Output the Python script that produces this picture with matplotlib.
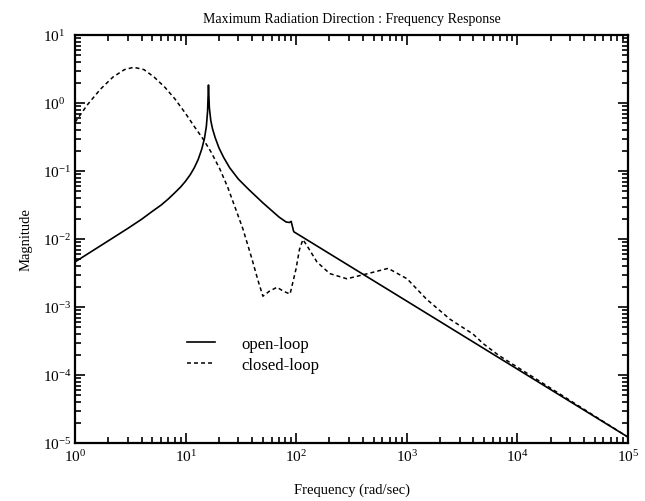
import matplotlib
matplotlib.use('Agg')
import matplotlib.pyplot as plt
from matplotlib.ticker import LogLocator, NullFormatter

plt.rcParams['font.family'] = ['Liberation Serif', 'DejaVu Serif']
plt.rcParams['mathtext.fontset'] = 'custom'
plt.rcParams['mathtext.rm'] = 'Liberation Serif'
plt.rcParams['mathtext.it'] = 'Liberation Serif:italic'
plt.rcParams['mathtext.bf'] = 'Liberation Serif:bold'

# open-loop (solid)
open_freq = [1.0, 2.0, 3.0, 4.0, 5.0, 6.0, 7.0, 8.0, 9.0, 10.0, 11.0, 12.0,
             13.0, 14.0, 14.8, 15.4, 15.8, 16.1, 16.4, 16.9, 17.5, 18.5, 20.0,
             22.0, 25.0, 30.0, 37.0, 50.0, 70.0, 81.0, 87.0, 90.0, 95.0,
             1000.0, 100000.0]
open_mag = [0.0046, 0.0094, 0.0143, 0.0195, 0.0255, 0.0315, 0.039, 0.048,
            0.058, 0.071, 0.088, 0.112, 0.148, 0.21, 0.30, 0.45, 0.75, 1.84,
            0.85, 0.55, 0.42, 0.31, 0.22, 0.16, 0.112, 0.076, 0.054, 0.034,
            0.021, 0.0178, 0.0175, 0.0182, 0.0128, 0.00122, 0.0000122]

# closed-loop (dashed)
closed_freq = [1.0, 1.3, 1.7, 2.2, 2.8, 3.4, 4.2, 5.2, 6.5, 8.0, 10.0, 12.0,
               14.3, 17.0, 20.4, 24.0, 29.0, 33.0, 39.8, 45.0, 50.0, 57.0,
               67.0, 77.0, 88.0, 99.5, 107.0, 115.0, 125.0, 154.0, 201.0,
               287.0, 445.0, 678.0, 1006.0, 1510.0, 2460.0, 3970.0, 4900.0,
               6760.0, 100000.0]
closed_mag = [0.52, 0.95, 1.6, 2.4, 3.1, 3.35, 3.1, 2.4, 1.7, 1.15, 0.70,
              0.45, 0.30, 0.19, 0.107, 0.058, 0.025, 0.014, 0.0051, 0.0025,
              0.00144, 0.0017, 0.00195, 0.0017, 0.00155, 0.0036, 0.0070,
              0.0098, 0.0080, 0.0046, 0.0031, 0.0026, 0.0031, 0.0037, 0.0026,
              0.0013, 0.00066, 0.00040, 0.00029, 0.000195, 0.0000122]

fig = plt.figure(figsize=(6.45, 5.02), dpi=100)
ax = fig.add_axes([75 / 645, 1 - 444 / 502, 553 / 645, 408 / 502])

ax.plot(open_freq, open_mag, color='black', lw=1.2, label='open-loop')
ax.plot(closed_freq, closed_mag, color='black', lw=1.1, ls=(0, (2.6, 2.0)),
        label='closed-loop')

ax.set_xscale('log')
ax.set_yscale('log')
ax.set_xlim(1, 1e5)
ax.set_ylim(1e-5, 1e1)

ax.xaxis.set_major_locator(LogLocator(base=10, numticks=10))
ax.yaxis.set_major_locator(LogLocator(base=10, numticks=10))
ax.xaxis.set_minor_locator(LogLocator(base=10, subs=range(2, 10), numticks=20))
ax.yaxis.set_minor_locator(LogLocator(base=10, subs=range(2, 10), numticks=20))
ax.xaxis.set_minor_formatter(NullFormatter())
ax.yaxis.set_minor_formatter(NullFormatter())
ax.tick_params(which='both', direction='in', top=True, right=True,
               labelsize=11, width=1.2)
ax.tick_params(which='major', length=7)
ax.tick_params(which='minor', length=4)
ax.tick_params(axis='x', pad=4)
# y tick labels start at one common left edge, as in the original
ax.tick_params(axis='y', pad=23)
for lab in ax.get_yticklabels():
    lab.set_horizontalalignment('left')
for s in ax.spines.values():
    s.set_linewidth(1.6)

ax.set_title('Maximum Radiation Direction : Frequency Response', fontsize=10,
             pad=9)
ax.set_xlabel('Frequency (rad/sec)', fontsize=10.5)
ax.xaxis.set_label_coords(0.5, -0.097)
ax.set_ylabel('Magnitude', fontsize=10.5)
ax.yaxis.set_label_coords(-0.077, 0.5)

ax.legend(loc='upper left', bbox_to_anchor=(0.175, 0.30), frameon=False,
          fontsize=12, handlelength=1.7, handletextpad=1.6, labelspacing=0.3,
          borderpad=0.4)

fig.savefig('out.png', dpi=100)
